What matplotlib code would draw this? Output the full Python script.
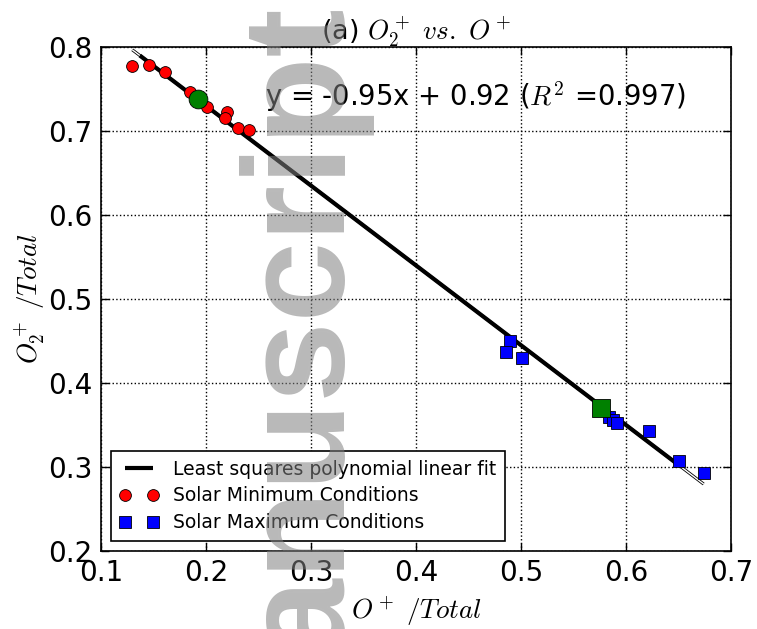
import numpy as np
import matplotlib
matplotlib.use("Agg")
import matplotlib.pyplot as plt

plt.rcParams["mathtext.fontset"] = "cm"
plt.rcParams["font.family"] = ["DejaVu Sans"]

# O+ / Total and O2+ / Total fractions for the two solar conditions
solar_min_o = [0.1298, 0.1457, 0.1610, 0.1848, 0.2007, 0.2203, 0.2181, 0.2308, 0.2412]
solar_min_o2 = [0.7777, 0.7786, 0.7700, 0.7460, 0.7290, 0.7230, 0.7160, 0.7030, 0.7010]
solar_max_o = [0.4895, 0.4857, 0.5010, 0.5841, 0.5873, 0.5911, 0.6219, 0.6505, 0.6740]
solar_max_o2 = [0.4504, 0.4373, 0.4294, 0.3592, 0.3560, 0.3520, 0.3432, 0.3071, 0.2932]

# linear least squares fit coefficients and goodness of fit
fit_slope = -0.95
fit_intercept = 0.92
fit_r2 = 0.997
fit_span = [0.137, 0.6505]

x_ticks = [0.1, 0.2, 0.3, 0.4, 0.5, 0.6, 0.7]
y_ticks = [0.2, 0.3, 0.4, 0.5, 0.6, 0.7, 0.8]

fig = plt.figure(figsize=(7.57, 6.29), dpi=100)
ax = fig.add_axes([0.1334, 0.124, 0.8322, 0.8013])

all_o = np.array(solar_min_o + solar_max_o)
xr = np.array([all_o.min(), all_o.max()])

# thin outlined fit over the full data range
ax.plot(xr, fit_slope * xr + fit_intercept, color="k", lw=2.2, zorder=2,
        solid_capstyle="butt")
ax.plot(xr, fit_slope * xr + fit_intercept, color="w", lw=1.0, zorder=2,
        solid_capstyle="butt")
xs = np.array(fit_span)
ax.plot(xs, fit_slope * xs + fit_intercept, color="k", lw=3, zorder=3,
        label="Least squares polynomial linear fit", solid_capstyle="butt")

ax.plot(solar_min_o, solar_min_o2, "o", color="r", mec="k", mew=0.6, ms=8.5,
        zorder=4, label="Solar Minimum Conditions")
ax.plot(solar_max_o, solar_max_o2, "s", color="b", mec="k", mew=0.6, ms=8.5,
        zorder=4, label="Solar Maximum Conditions")

# mean of each group
ax.plot(np.mean(solar_min_o), np.mean(solar_min_o2), "o", color="g", mec="k",
        mew=0.6, ms=13.5, zorder=5)
ax.plot(np.mean(solar_max_o), np.mean(solar_max_o2), "s", color="g", mec="k",
        mew=0.6, ms=13.5, zorder=5)

ax.set_xlim(0.1, 0.7)
ax.set_ylim(0.2, 0.8)
ax.set_xticks(x_ticks)
ax.set_yticks(y_ticks)
ax.set_xticklabels([f"{v:.1f}" for v in x_ticks])
ax.set_yticklabels([f"{v:.1f}" for v in y_ticks])
ax.tick_params(direction="in", length=6, width=1, labelsize=20, top=True,
               right=True, pad=6)
for s in ax.spines.values():
    s.set_linewidth(1.2)
ax.grid(True, ls=":", color="k", lw=1)

ax.set_title(r"(a) $O_2^+\ vs.\ O^+$", fontsize=19.5, pad=5)
ax.set_xlabel(r"$O^+\ /Total$", fontsize=19.5, labelpad=5)
ax.set_ylabel(r"$O_2^+\ /Total$", fontsize=19.5, labelpad=0)

ax.text(0.256, 0.7405,
        f"y = {fit_slope:.2f}x + {fit_intercept:.2f} ($R^2$ ={fit_r2:.3f})",
        fontsize=19.8, ha="left", va="center", zorder=6)

leg = ax.legend(loc="lower left", numpoints=2, fontsize=13.5, fancybox=False,
                framealpha=1, edgecolor="k", borderaxespad=0.55,
                handlelength=2.1, handletextpad=0.75, labelspacing=0.42,
                borderpad=0.45)
leg.get_frame().set_linewidth(1.2)

fig.text(0.393, 0.39, "Manuscript", rotation=90, ha="center", va="center",
         fontsize=104, family="Liberation Sans", weight="bold",
         color="0.5", alpha=0.55, zorder=10)

fig.savefig("out.png", dpi=100)
